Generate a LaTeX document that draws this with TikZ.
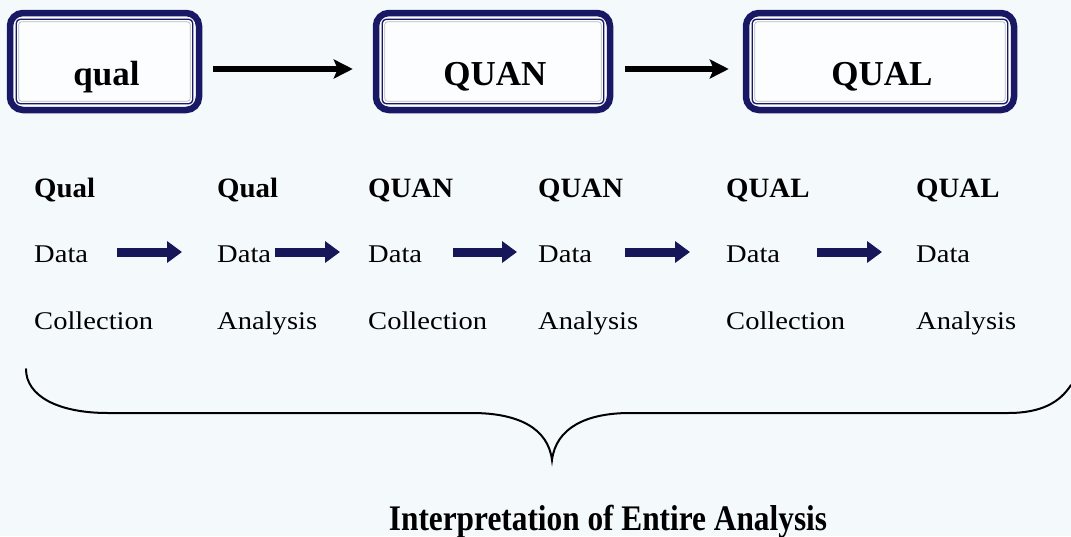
\documentclass[tikz,border=0pt]{standalone}
\usepackage{fontspec}
\setmainfont{Liberation Serif}
\newfontfamily\rowfont[FakeStretch=1.12]{Liberation Serif}
\newfontfamily\headfont[FakeStretch=1.03]{Liberation Serif}
\newfontfamily\capfont[FakeStretch=0.87]{Liberation Serif}
\usetikzlibrary{arrows.meta}

\definecolor{bgtint}{RGB}{244,250,252}
\definecolor{framenavy}{RGB}{24,24,100}
\definecolor{arrownavy}{RGB}{22,22,88}

\tikzset{
  stagebox/.style={draw=framenavy, line width=6.5pt, rounded corners=13pt,
    fill=white!60!bgtint, minimum height=97pt, inner sep=0pt},
  stagetext/.style={font=\fontsize{35}{40}\selectfont\bfseries,
    anchor=base, inner sep=0pt},
  rowtext/.style={font=\rowfont\fontsize{25.5}{30}\selectfont,
    anchor=base west, inner sep=0pt},
  rowhead/.style={rowtext, font=\headfont\fontsize{28}{32}\selectfont\bfseries},
  flowarrow/.style={line width=6pt,
    -{Stealth[length=19pt,width=19pt,inset=4pt]}},
  steparrow/.style={draw=arrownavy, line width=9pt,
    -{Triangle[length=15pt,width=21pt]}},
  innerframe/.style={draw=framenavy, line width=1.3pt, rounded corners=4pt},
  innerglint/.style={draw=gray!55, line width=0.7pt, rounded corners=3pt},
  bracepath/.style={line width=2pt, line cap=round}
}

\begin{document}
\begin{tikzpicture}[x=1pt,y=-1pt]
  % page and background
  \useasboundingbox (0,0) rectangle (1071,536);
  \fill[bgtint] (0,0) rectangle (1071,536);

  % the three stage boxes
  \node[stagebox, minimum width=189pt] (b1) at (104.5,61.5) {};
  \node[stagebox, minimum width=234pt] (b2) at (493,61.5) {};
  \node[stagebox, minimum width=268pt] (b3) at (880,61.5) {};
  \foreach \b in {b1,b2,b3}{
    \draw[innerframe] ([shift={(9.5,9.5)}]\b.north west)
      rectangle ([shift={(-9.5,-9.5)}]\b.south east);
    \draw[innerglint] ([shift={(12,12)}]\b.north west)
      rectangle ([shift={(-12,-12)}]\b.south east);
  }
  \node[stagetext, xshift=2pt] (t1) at (b1.center |- 0,85) {qual};
  \node[stagetext, xshift=2pt] (t2) at (b2.center |- 0,85) {QUAN};
  \node[stagetext, xshift=2pt] (t3) at (b3.center |- 0,85) {QUAL};

  % arrows between the stages
  \draw[flowarrow] ([shift={(11,7.5)}]b1.east) -- ([shift={(-20,7.5)}]b2.west);
  \draw[flowarrow] ([shift={(12,7.5)}]b2.east) -- ([shift={(-14,7.5)}]b3.west);

  % step headings
  \node[rowhead] (h1) at (34,197)  {Qual};
  \node[rowhead] (h2) at (217,197) {Qual};
  \node[rowhead] (h3) at (368,197) {QUAN};
  \node[rowhead] (h4) at (538,197) {QUAN};
  \node[rowhead] (h5) at (726,197) {QUAL};
  \node[rowhead] (h6) at (916,197) {QUAL};

  % middle line
  \node[rowtext] (d1) at (34,262)  {Data};
  \node[rowtext] (d2) at (217,262) {Data};
  \node[rowtext] (d3) at (368,262) {Data};
  \node[rowtext] (d4) at (538,262) {Data};
  \node[rowtext] (d5) at (726,262) {Data};
  \node[rowtext] (d6) at (916,262) {Data};

  % bottom line
  \node[rowtext] (s1) at (34,329)  {Collection};
  \node[rowtext] (s2) at (217,329) {Analysis};
  \node[rowtext] (s3) at (368,329) {Collection};
  \node[rowtext] (s4) at (538,329) {Analysis};
  \node[rowtext] (s5) at (726,329) {Collection};
  \node[rowtext] (s6) at (916,329) {Analysis};

  % block arrows between the steps
  \draw[steparrow] ([shift={(29,-10)}]d1.base east) -- ([shift={(-35,-10)}]d2.base west);
  \draw[steparrow] ([shift={(4,-10)}]d2.base east)  -- ([shift={(-28,-10)}]d3.base west);
  \draw[steparrow] ([shift={(31,-10)}]d3.base east) -- ([shift={(-21,-10)}]d4.base west);
  \draw[steparrow] ([shift={(33,-10)}]d4.base east) -- ([shift={(-36,-10)}]d5.base west);
  \draw[steparrow] ([shift={(37,-10)}]d5.base east) -- ([shift={(-34,-10)}]d6.base west);

  % curly brace gathering all steps
  \draw[bracepath] (26,369) .. controls (26,396) and (58,413) .. (108,413)
    -- (472,413) .. controls (518,413) and (548,428) .. (552,460)
    .. controls (556,428) and (586,413) .. (630,413)
    -- (1008,413) .. controls (1042,413) and (1060,402) .. (1071,385);

  \node[font=\capfont\fontsize{36}{40}\selectfont\bfseries, anchor=base,
    inner sep=0pt] (interp) at (608,530) {Interpretation of Entire Analysis};
\end{tikzpicture}
\end{document}
